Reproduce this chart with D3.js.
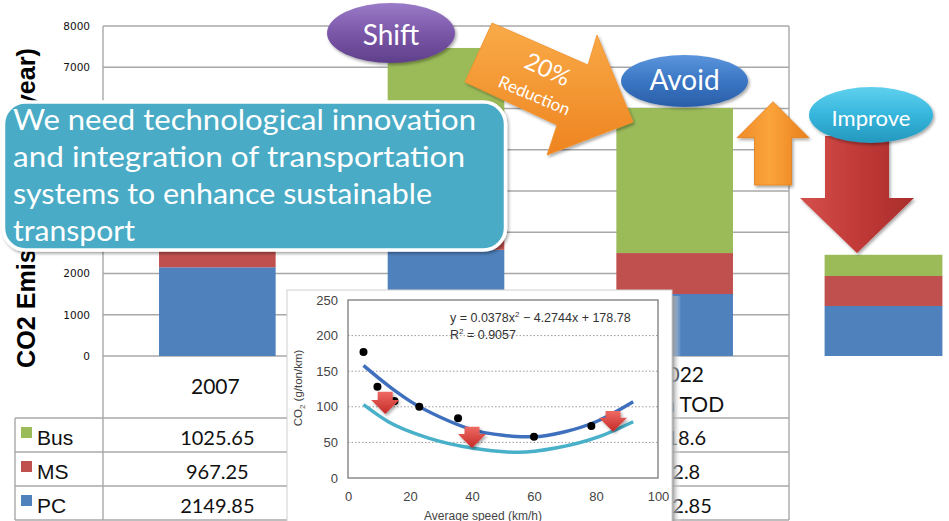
<!DOCTYPE html>
<html>
<head>
<meta charset="utf-8">
<script src="https://cdn.jsdelivr.net/npm/d3@7"></script>
<style>
  html, body { margin: 0; padding: 0; background: #fff; overflow: hidden; }
  svg { display: block; }
</style>
</head>
<body>
<svg id="chart" width="949" height="521"></svg>
<script>
// ---- Emissions by transport mode and scenario (ton/year) ----
const scenarios = ["2007", "2022 BAU", "2022 Plan TOD"];
const scenarioLines = [["2007"], ["2022", "BAU"], ["2022", "Plan TOD"]];
const modes = ["Bus", "MS", "PC"];
const busValues = [1025.65, 3401.7, 3518.6];
const msValues = [967.25, 1490.3, 992.8];
const pcValues = [2149.85, 2575.5, 1502.85];

// Further cut from cleaner vehicles
const improvedLabel = ["Improve"];
const improvedBus = [515];
const improvedMS = [727];
const improvedPC = [1212];

const yTicks = [0, 1000, 2000, 3000, 4000, 5000, 6000, 7000, 8000];

// Reference levels marked by horizontal guide lines (ton/year)
const levelBase = 4142.75;
const levelTOD = 6165;
const levelImproved = 2497;

// ---- Speed vs. CO2 curve (inset) ----
const obsSpeed = [5, 9.5, 15, 23, 35.5, 60, 78.5];
const obsCO2 = [177, 128, 108, 100, 84, 58, 73];
const fitSpeed = [5, 10, 15, 20, 30, 40, 50, 56, 60, 70, 80, 92];
const fitCO2 = [158, 140, 123, 108, 85, 68, 60, 58, 58, 65, 79, 107];
const lowSpeed = [5, 13, 26, 40, 55, 67, 81, 92];
const lowCO2 = [103, 79, 56, 42, 36, 42, 58, 79];
const dropSpeed = [12, 40, 85.5];
const dropFrom = [121, 72, 94];
const dropTo = [90, 42, 65];
const speedTicks = [0, 20, 40, 60, 80, 100];
const co2Ticks = [0, 50, 100, 150, 200, 250];

const colors = { Bus: "#9bbb59", MS: "#c0504d", PC: "#4f81bd" };
const slideFont = "Lato, 'Open Sans', sans-serif";
const chartFont = "'Liberation Sans', Arial, sans-serif";

const svg = d3.select("#chart");
const defs = svg.append("defs");

function linGrad(id, stops, x2 = 0, y2 = 1) {
  const g = defs.append("linearGradient").attr("id", id)
    .attr("x1", 0).attr("y1", 0).attr("x2", x2).attr("y2", y2);
  stops.forEach(([o, c]) => g.append("stop").attr("offset", o).attr("stop-color", c));
}
linGrad("gShift", [[0, "#9a7bc8"], [0.5, "#7b57a8"], [1, "#5f3f8a"]]);
linGrad("gAvoid", [[0, "#5b95dc"], [0.5, "#3a76c4"], [1, "#2a5ea8"]]);
linGrad("gImprove", [[0, "#5fd0ee"], [0.5, "#36b6dc"], [1, "#2597bd"]]);
linGrad("gOrange", [[0, "#f9ab48"], [1, "#ee8420"]]);
linGrad("gOrangeUp", [[0, "#ee8a2a"], [0.45, "#fba43a"], [1, "#e97f1c"]], 1, 0);
linGrad("gRed", [[0, "#d4504c"], [0.5, "#c23a38"], [1, "#a92d2b"]], 1, 0);
linGrad("gRedSmall", [[0, "#ef6a64"], [1, "#c42a26"]]);
linGrad("gShadowSide", [[0, "#8c8c8c"], [1, "rgba(255,255,255,0)"]], 1, 0);

const shadow = defs.append("filter").attr("id", "shadow")
  .attr("x", "-20%").attr("y", "-20%").attr("width", "140%").attr("height", "140%");
shadow.append("feDropShadow").attr("dx", 1.5).attr("dy", 2).attr("stdDeviation", 1.8)
  .attr("flood-color", "#000").attr("flood-opacity", 0.35);

// ---- Scales ----
const plotLeft = 103, plotRight = 789;
const y = d3.scaleLinear().domain([0, 8000]).range([356, 26]);
const x = d3.scaleBand().domain(scenarios).range([plotLeft, plotRight])
  .paddingInner(0.49).paddingOuter(0.245);
const xImp = d3.scaleBand().domain(improvedLabel).range([768, 999])
  .paddingInner(0.49).paddingOuter(0.245);

// ---- Gridlines and frame ----
const grid = svg.append("g");
grid.selectAll("line.h").data(yTicks).join("line")
  .attr("x1", plotLeft).attr("x2", plotRight)
  .attr("y1", d => y(d)).attr("y2", d => y(d))
  .attr("stroke", "#a8a8a8").attr("stroke-width", 1.4);
const tableRows = [418, 452, 486, 520];
grid.selectAll("line.v").data([plotLeft, plotRight]).join("line")
  .attr("x1", d => d).attr("x2", d => d)
  .attr("y1", y(8000)).attr("y2", tableRows[3])
  .attr("stroke", "#a8a8a8").attr("stroke-width", 1.4);
// column separators in the table header
grid.selectAll("line.c").data(scenarios.slice(1)).join("line")
  .attr("x1", d => x(d) - x.step() * x.paddingInner() / 2)
  .attr("x2", d => x(d) - x.step() * x.paddingInner() / 2)
  .attr("y1", y(0)).attr("y2", tableRows[3])
  .attr("stroke", "#a8a8a8").attr("stroke-width", 1.4);
grid.selectAll("line.r").data(tableRows).join("line")
  .attr("x1", 15).attr("x2", plotRight)
  .attr("y1", d => d).attr("y2", d => d)
  .attr("stroke", "#a8a8a8").attr("stroke-width", 1.4);
grid.append("line").attr("x1", 15).attr("x2", 15)
  .attr("y1", tableRows[0]).attr("y2", tableRows[3])
  .attr("stroke", "#a8a8a8").attr("stroke-width", 1.4);

// ---- Y axis ----
const yAxis = svg.append("g").attr("transform", `translate(${plotLeft},0)`)
  .call(d3.axisLeft(y).tickValues(yTicks).tickSize(0).tickPadding(13).tickFormat(d3.format("d")));
yAxis.select(".domain").remove();
yAxis.selectAll("text").attr("font-family", "'DejaVu Sans', sans-serif")
  .attr("font-size", 10.5).attr("fill", "#111");

svg.append("text")
  .attr("transform", `translate(35,208) rotate(-90)`)
  .attr("text-anchor", "middle")
  .attr("font-family", chartFont).attr("font-weight", "bold").attr("font-size", 25)
  .attr("textLength", 320).attr("lengthAdjust", "spacingAndGlyphs")
  .text("CO2 Emissions (tons/year)");

// ---- Stacked bars ----
const rows = scenarios.map((s, i) => ({ key: s, Bus: busValues[i], MS: msValues[i], PC: pcValues[i] }));
const stackKeys = ["PC", "MS", "Bus"];
const stacked = d3.stack().keys(stackKeys)(rows);
svg.append("g").selectAll("g").data(stacked).join("g")
  .attr("fill", d => colors[d.key])
  .selectAll("rect").data(d => d).join("rect")
  .attr("x", d => x(d.data.key)).attr("width", x.bandwidth())
  .attr("y", d => y(d[1])).attr("height", d => y(d[0]) - y(d[1]));

const impRows = improvedLabel.map((s, i) => ({ key: s, Bus: improvedBus[i], MS: improvedMS[i], PC: improvedPC[i] }));
const impStacked = d3.stack().keys(stackKeys)(impRows);
svg.append("g").selectAll("g").data(impStacked).join("g")
  .attr("fill", d => colors[d.key])
  .selectAll("rect").data(d => d).join("rect")
  .attr("x", d => xImp(d.data.key)).attr("width", xImp.bandwidth())
  .attr("y", d => y(d[1])).attr("height", d => y(d[0]) - y(d[1]));

// ---- Data table ----
const table = svg.append("g");
scenarios.forEach((s, i) => {
  const cx = x(s) + x.bandwidth() / 2 + (i === 0 ? -2 : 5);
  const lines = scenarioLines[i];
  const base = lines.length === 1 ? [394] : [382, 412];
  lines.forEach((t, j) => table.append("text")
    .attr("x", cx).attr("y", base[j]).attr("text-anchor", "middle")
    .attr("font-family", slideFont).attr("font-size", 21).attr("fill", "#111").text(t));
});
const seriesValues = { Bus: busValues, MS: msValues, PC: pcValues };
modes.forEach((m, r) => {
  const top = tableRows[r];
  table.append("rect").attr("x", 21).attr("y", top + 9).attr("width", 11).attr("height", 11)
    .attr("fill", colors[m]);
  table.append("text").attr("x", 37).attr("y", top + 27)
    .attr("font-family", chartFont).attr("font-size", 21).attr("fill", "#111").text(m);
  scenarios.forEach((s, i) => table.append("text")
    .attr("x", x(s) + x.bandwidth() / 2).attr("y", top + 27).attr("text-anchor", "middle")
    .attr("font-family", slideFont).attr("font-size", 20).attr("fill", "#111")
    .text(String(seriesValues[m][i])));
});

// ---- Guide lines ----
const guideEnd = plotRight + 13;
svg.append("line").attr("x1", x(scenarios[1])).attr("x2", guideEnd)
  .attr("y1", y(levelBase)).attr("y2", y(levelBase))
  .attr("stroke", "#4a7bbb").attr("stroke-width", 3.2).attr("filter", "url(#shadow)");
svg.append("line").attr("x1", x(scenarios[2])).attr("x2", guideEnd)
  .attr("y1", y(levelTOD)).attr("y2", y(levelTOD))
  .attr("stroke", "#4a7bbb").attr("stroke-width", 3.2).attr("filter", "url(#shadow)");

// Orange up arrow between the two guide levels
function vArrow(cx, yTail, yTip, shaftW, headW, headH) {
  const dir = yTip < yTail ? -1 : 1;
  const yBase = yTip - dir * headH;
  return [[cx - shaftW / 2, yTail], [cx - shaftW / 2, yBase], [cx - headW / 2, yBase], [cx, yTip],
          [cx + headW / 2, yBase], [cx + shaftW / 2, yBase], [cx + shaftW / 2, yTail]];
}
svg.append("polygon")
  .attr("points", vArrow(773, y(levelBase), y(levelTOD), 37, 72, 36).join(" "))
  .attr("fill", "url(#gOrangeUp)").attr("stroke", "#e0801e").attr("stroke-width", 0.8)
  .attr("filter", "url(#shadow)");

// Red down arrow to the improved level
svg.append("polygon")
  .attr("points", vArrow(857, 136, y(levelImproved), 64, 114, 55).join(" "))
  .attr("fill", "url(#gRed)").attr("filter", "url(#shadow)");
svg.append("line").attr("x1", 745).attr("x2", 949)
  .attr("y1", y(levelImproved)).attr("y2", y(levelImproved))
  .attr("stroke", "#c9504c").attr("stroke-width", 3.4).attr("filter", "url(#shadow)");

// ---- "20% Reduction" block arrow ----
svg.append("polygon")
  .attr("points", [[492, 23], [588, 65], [597, 35], [633, 122], [547, 155], [557, 125], [465, 82]].join(" "))
  .attr("fill", "url(#gOrange)").attr("stroke", "#f0902c").attr("stroke-width", 0.8)
  .attr("filter", "url(#shadow)");
svg.append("text").attr("transform", "translate(544,77) rotate(25)")
  .attr("text-anchor", "middle").attr("font-family", slideFont).attr("font-size", 24)
  .attr("fill", "#fff").text("20%");
svg.append("text").attr("transform", "translate(532,101) rotate(23)")
  .attr("text-anchor", "middle").attr("font-family", slideFont).attr("font-size", 17)
  .attr("fill", "#fff").text("Reduction");

// ---- Strategy labels ----
const bubbles = [
  { label: "Shift", cx: 391, cy: 33, rx: 64, ry: 30, fill: "url(#gShift)", size: 28, base: 45 },
  { label: "Avoid", cx: 684.5, cy: 81, rx: 63.5, ry: 26, fill: "url(#gAvoid)", size: 28, base: 90 },
  { label: "Improve", cx: 871, cy: 115, rx: 62, ry: 28, fill: "url(#gImprove)", size: 22, base: 126 }
];
const bub = svg.append("g").selectAll("g").data(bubbles).join("g");
bub.append("ellipse").attr("cx", d => d.cx).attr("cy", d => d.cy)
  .attr("rx", d => d.rx).attr("ry", d => d.ry).attr("fill", d => d.fill)
  .attr("filter", "url(#shadow)");
bub.append("text").attr("x", d => d.cx).attr("y", d => d.base).attr("text-anchor", "middle")
  .attr("font-family", slideFont).attr("font-size", d => d.size).attr("fill", "#fff")
  .text(d => d.label);

// ---- Message callout ----
const callout = svg.append("g");
callout.append("rect").attr("x", 3.5).attr("y", 102).attr("width", 502).attr("height", 148)
  .attr("rx", 22).attr("fill", "#4aabc5").attr("stroke", "#fff").attr("stroke-width", 3.5)
  .attr("filter", "url(#shadow)");
const message = [
  ["We need technological innovation", 463],
  ["and integration of transportation", 452],
  ["systems to enhance sustainable", 419],
  ["transport", 122]
];
message.forEach(([t, w], i) => callout.append("text")
  .attr("x", 13).attr("y", 130 + i * 37)
  .attr("font-family", slideFont).attr("font-size", 28).attr("fill", "#fff")
  .attr("textLength", w).attr("lengthAdjust", "spacingAndGlyphs").text(t));

// ---- Inset: CO2 per ton-km vs. average speed ----
const inset = svg.append("g");
inset.append("rect").attr("x", 672).attr("y", 296).attr("width", 9).attr("height", 240)
  .attr("fill", "url(#gShadowSide)");
inset.append("rect").attr("x", 287).attr("y", 290).attr("width", 385).attr("height", 240)
  .attr("fill", "#fff").attr("stroke", "#d0d0d0").attr("stroke-width", 1);

const sx = d3.scaleLinear().domain([0, 100]).range([348, 658]);
const sy = d3.scaleLinear().domain([0, 250]).range([478, 300]);

inset.selectAll("line.g").data(co2Ticks.slice(1, -1)).join("line")
  .attr("x1", sx(0)).attr("x2", sx(100)).attr("y1", d => sy(d)).attr("y2", d => sy(d))
  .attr("stroke", "#9a9a9a").attr("stroke-width", 1).attr("stroke-dasharray", "1.5,2");
inset.append("rect").attr("x", sx(0)).attr("y", sy(250))
  .attr("width", sx(100) - sx(0)).attr("height", sy(0) - sy(250))
  .attr("fill", "none").attr("stroke", "#7a7a7a").attr("stroke-width", 1.3);

const insetText = "'Liberation Sans', Arial, sans-serif";
const ax = inset.append("g").attr("transform", `translate(0,${sy(0)})`)
  .call(d3.axisBottom(sx).tickValues(speedTicks).tickSize(0).tickPadding(14));
ax.select(".domain").remove();
ax.selectAll("text").attr("font-family", insetText).attr("font-size", 13).attr("fill", "#444");
const ay = inset.append("g").attr("transform", `translate(${sx(0)},0)`)
  .call(d3.axisLeft(sy).tickValues(co2Ticks).tickSize(0).tickPadding(10));
ay.select(".domain").remove();
ay.selectAll("text").attr("font-family", insetText).attr("font-size", 13).attr("fill", "#444");

inset.append("text").attr("x", 483).attr("y", 519.5).attr("text-anchor", "middle")
  .attr("font-family", insetText).attr("font-size", 12).attr("fill", "#444")
  .text("Average speed (km/h)");
const yl = inset.append("text").attr("transform", "translate(302,388) rotate(-90)")
  .attr("text-anchor", "middle").attr("font-family", insetText).attr("font-size", 11.5)
  .attr("fill", "#444");
yl.append("tspan").text("CO");
yl.append("tspan").attr("font-size", 8).attr("dy", 3).text("2");
yl.append("tspan").attr("dy", -3).text(" (g/ton/km)");

const eq = inset.append("text").attr("x", 450).attr("y", 322)
  .attr("font-family", insetText).attr("font-size", 12.5).attr("fill", "#333");
eq.append("tspan").text("y = 0.0378x");
eq.append("tspan").attr("font-size", 8).attr("dy", -5).text("2");
eq.append("tspan").attr("dy", 5).text(" \u2212 4.2744x + 178.78");
const r2 = inset.append("text").attr("x", 450).attr("y", 339)
  .attr("font-family", insetText).attr("font-size", 12.5).attr("fill", "#333");
r2.append("tspan").text("R");
r2.append("tspan").attr("font-size", 8).attr("dy", -5).text("2");
r2.append("tspan").attr("dy", 5).text(" = 0.9057");

const line = d3.line().curve(d3.curveMonotoneX).x(d => sx(d[0])).y(d => sy(d[1]));
inset.append("path").datum(lowSpeed.map((s, i) => [s, lowCO2[i]]))
  .attr("d", line).attr("fill", "none").attr("stroke", "#48b0c8").attr("stroke-width", 3.5);
inset.append("path").datum(fitSpeed.map((s, i) => [s, fitCO2[i]]))
  .attr("d", line).attr("fill", "none").attr("stroke", "#3f70bd").attr("stroke-width", 3.5);
inset.selectAll("circle").data(obsSpeed.map((s, i) => [s, obsCO2[i]])).join("circle")
  .attr("cx", d => sx(d[0])).attr("cy", d => sy(d[1])).attr("r", 4).attr("fill", "#000");

dropSpeed.forEach((s, i) => {
  inset.append("polygon")
    .attr("points", vArrow(sx(s), sy(dropFrom[i]), sy(dropTo[i]), 15, 28, 14).join(" "))
    .attr("fill", "url(#gRedSmall)").attr("filter", "url(#shadow)");
});
</script>
</body>
</html>
